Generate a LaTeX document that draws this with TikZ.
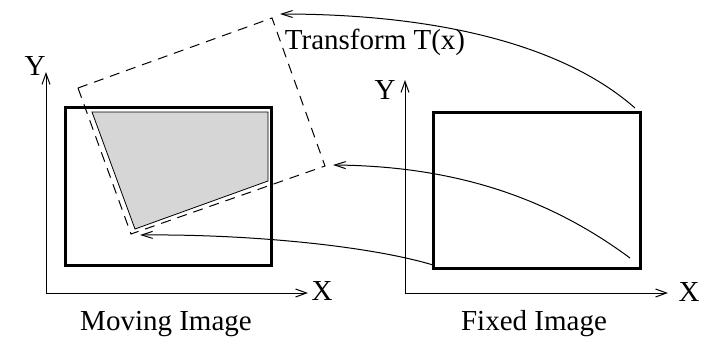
\documentclass[tikz,border=0pt]{standalone}
\usepackage{fontspec}
\setmainfont{Liberation Serif}
\usetikzlibrary{arrows.meta}
\definecolor{shade}{RGB}{214,214,214}
\begin{document}
\begin{tikzpicture}[x=1pt,y=-1pt,
  lbl/.style={inner sep=0pt,font=\fontsize{29}{34}\selectfont},
  frame/.style={draw,line width=3pt,inner sep=0pt},
  axis/.style={line width=1pt,-{Straight Barb[length=11pt,width=8pt]}},
  conn/.style={line width=1pt,-{Straight Barb[length=11pt,width=7pt]}},
  dashquad/.style={line width=1pt,dash pattern=on 10pt off 7pt}]
\useasboundingbox (0,0) rectangle (710,341);
% Moving image side
\coordinate (mo) at (46,293);
\coordinate (mytip) at (46,72);
\coordinate (mxtip) at (308,293);
\filldraw[fill=shade,line width=0.8pt] (92,112) -- (268,112) -- (268,181) -- (135,229) -- cycle;
\draw[dashquad] (78,88) -- (272,18) -- (325,166) -- (131,234) -- cycle;
\node[frame,minimum width=206pt,minimum height=158pt] (moving) at (168,186) {};
\draw[axis] (mo) -- (mytip);
\draw[axis] (mo) -- (mxtip);
\node[lbl] (my) at (35,66) {Y};
\node[lbl] (mx) at (322,291) {X};
\node[lbl] (mlabel) at (166,324) {Moving Image};
% Fixed image side
\coordinate (fo) at (405,293);
\coordinate (fytip) at (405,80);
\coordinate (fxtip) at (668,293);
\node[frame,minimum width=207pt,minimum height=156pt] (fixed) at (536.5,190) {};
\draw[axis] (fo) -- (fytip);
\draw[axis] (fo) -- (fxtip);
\node[lbl] (fy) at (385,90) {Y};
\node[lbl] (fx) at (689,292) {X};
\node[lbl] (flabel) at (534,324) {Fixed Image};
\node[lbl] (tlabel) at (375,42) {Transform T(x)};
% connectors
\coordinate (s1) at (635,108);
\coordinate (e1) at (280,14);
\coordinate (s2) at (630,258);
\coordinate (e2) at (333,165);
\coordinate (s3) at (433,265);
\coordinate (e3) at (140,235);
\draw[conn] (s1) .. controls (560,42) and (430,14) .. (e1);
\draw[conn] (s2) .. controls (545,195) and (450,166) .. (e2);
\draw[conn] (s3) .. controls (370,246) and (250,234) .. (e3);
\end{tikzpicture}
\end{document}
